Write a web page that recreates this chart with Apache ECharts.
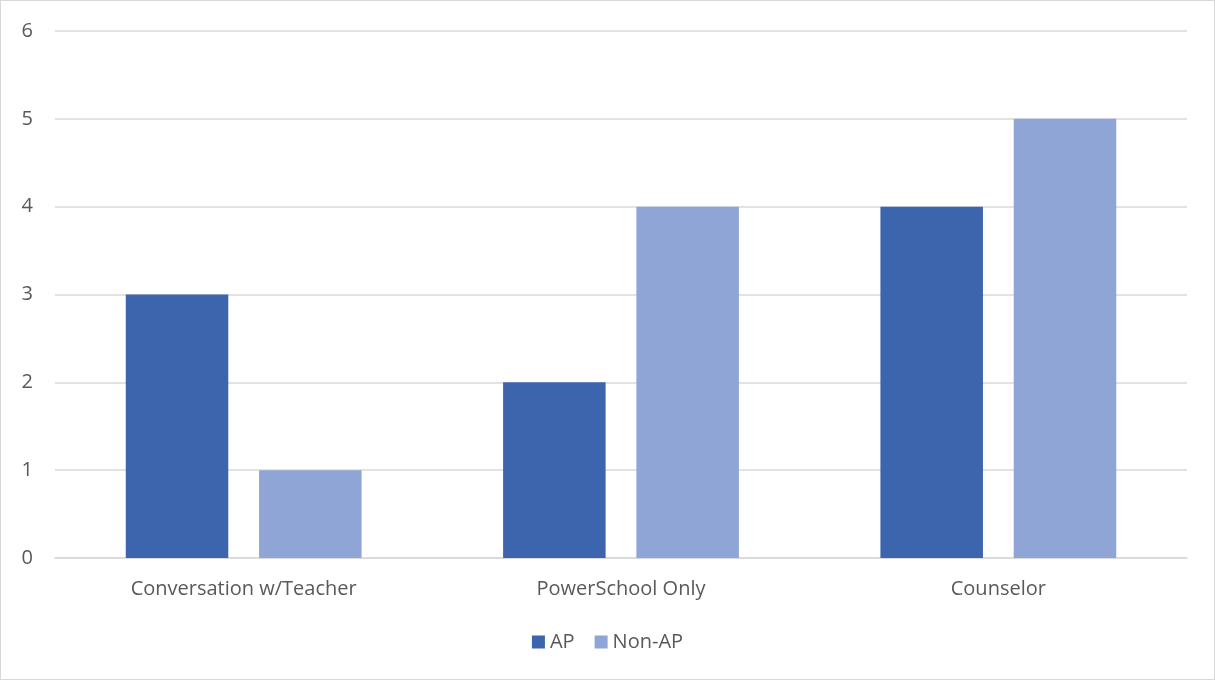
<!DOCTYPE html>
<html>
<head>
<meta charset="utf-8">
<script src="https://cdn.jsdelivr.net/npm/echarts@6/dist/echarts.min.js"></script>
<style>
html, body { margin: 0; padding: 0; background: #fff; }
#chart {
    width: 1215px;
    height: 680px;
    box-sizing: border-box;
    border: 1px solid #d9d9d9;
    margin: 0;
}
</style>
</head>
<body>
<div id="chart"></div>
<script>
// data
const categories = ['Conversation w/Teacher', 'PowerSchool Only', 'Counselor'];
const apValues = [3, 2, 4];
const nonApValues = [1, 4, 5];

const myChart = echarts.init(document.getElementById('chart'));

const font = 'Open Sans, Noto Sans, sans-serif';

let option = {
    animation: false,
    textStyle: { fontFamily: font },
    grid: {
        left: 54,
        right: 27,
        top: 30,
        bottom: 121,
        containLabel: false
    },
    legend: {
        data: ['AP', 'Non-AP'],
        bottom: 22,
        left: 'center',
        itemWidth: 13,
        itemHeight: 13,
        itemGap: 20,
        icon: 'rect',
        textStyle: {
            color: '#595959',
            fontSize: 20,
            fontFamily: font
        }
    },
    xAxis: {
        type: 'category',
        data: categories,
        axisLine: { lineStyle: { color: '#d9d9d9', width: 1.5 } },
        axisTick: { show: false },
        axisLabel: {
            color: '#595959',
            fontSize: 20,
            margin: 21,
            fontFamily: font
        }
    },
    yAxis: {
        type: 'value',
        min: 0,
        max: 6,
        interval: 1,
        axisLine: { show: false },
        axisTick: { show: false },
        splitLine: { lineStyle: { color: '#d9d9d9', width: 1.5 } },
        axisLabel: {
            color: '#595959',
            fontSize: 20,
            margin: 22,
            fontFamily: font
        }
    },
    series: [
        {
            name: 'AP',
            type: 'bar',
            data: apValues,
            barGap: '30%',
            barCategoryGap: '37.5%',
            itemStyle: { color: '#3C65AE' }
        },
        {
            name: 'Non-AP',
            type: 'bar',
            data: nonApValues,
            itemStyle: { color: '#8FA5D6' }
        }
    ]
};

myChart.setOption(option);
</script>
</body>
</html>
